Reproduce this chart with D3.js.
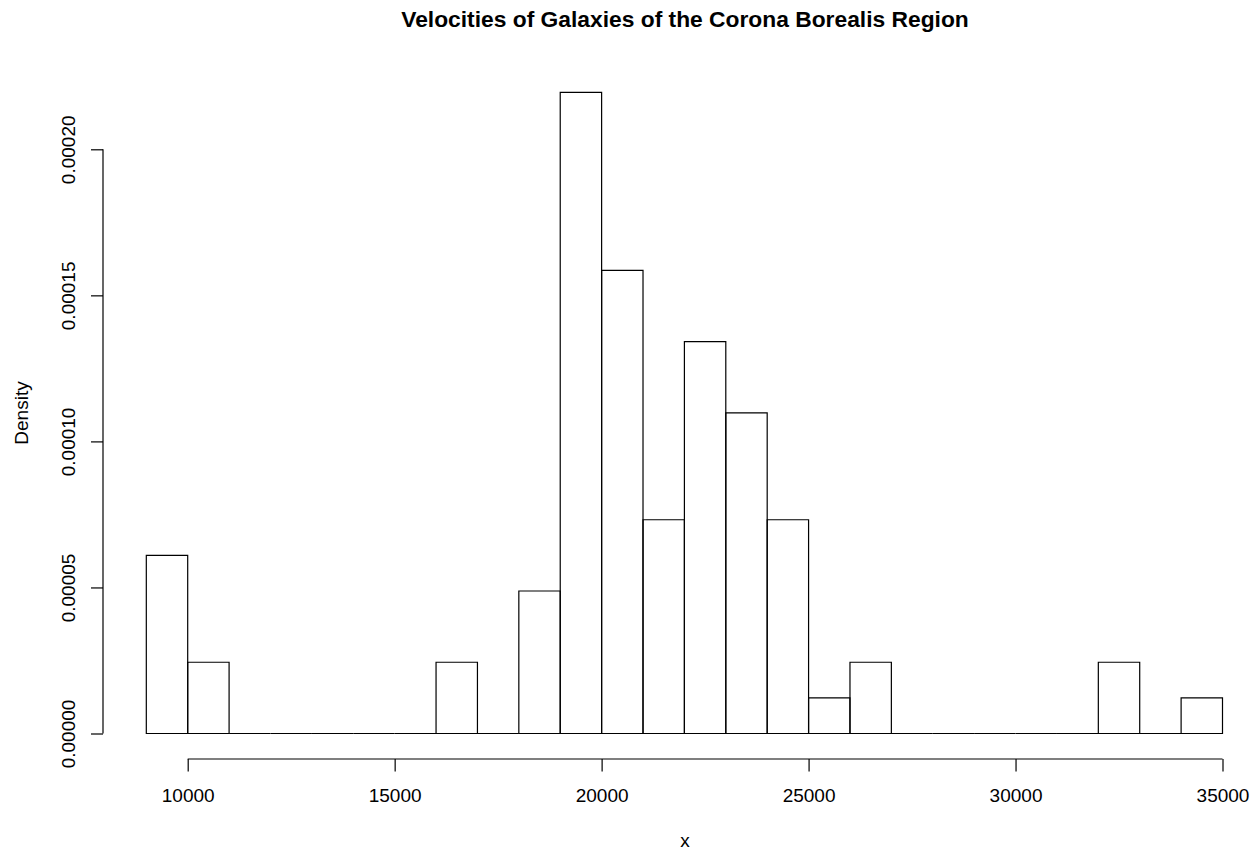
<!DOCTYPE html>
<html><head><meta charset="utf-8">
<script src="https://cdn.jsdelivr.net/npm/d3@7/dist/d3.min.js"></script>
<style>body{margin:0;background:#fff}svg{display:block}text{font-family:"Liberation Sans",Arial,sans-serif;fill:#000}</style>
</head><body><svg id="c" width="1260" height="852"></svg>
<script>
const binStarts = [9000,10000,11000,12000,13000,14000,15000,16000,17000,18000,19000,20000,21000,22000,23000,24000,25000,26000,27000,28000,29000,30000,31000,32000,33000,34000];
const binWidth = 1000;
const densities = [0.00006098,0.00002439,0,0,0,0,0,0.00002439,0,0.00004878,0.00021951,0.00015854,0.00007317,0.00013415,0.00010976,0.00007317,0.00001220,0.00002439,0,0,0,0,0,0.00002439,0,0.00001220];
const xTicks = [10000,15000,20000,25000,30000,35000];
const yTicks = [0,0.00005,0.0001,0.00015,0.0002];
const titleText = "Velocities of Galaxies of the Corona Borealis Region";

const svg = d3.select("#c");
const x = d3.scaleLinear().domain([10000,35000]).range([187.7,1222.5]);
const y = d3.scaleLinear().domain([0,0.0002]).range([733.5,149.3]);

svg.append("g").selectAll("path").data(binStarts).join("path")
  .attr("d", (d,i)=>{
    const x0=x(d), x1=x(d+binWidth), y0=y(0), y1=y(densities[i]);
    return `M${x0},${y0}V${y1}H${x1}V${y0}Z`;
  })
  .attr("fill","none").attr("stroke","#000").attr("stroke-width",1.2);

const gx = svg.append("g").attr("transform","translate(0,759)")
  .call(d3.axisBottom(x).tickValues(xTicks).tickSize(12.5).tickPadding(0).tickFormat(d3.format("d")));
const gy = svg.append("g").attr("transform","translate(103,0)")
  .call(d3.axisLeft(y).tickValues(yTicks).tickSize(12).tickFormat(d3.format(".5f")));
[gx,gy].forEach(g=>{
  g.select(".domain").attr("stroke","#000").attr("stroke-width",1.2).attr("d", g===gx ? `M${x(10000)},0H${x(35000)}` : `M0,${y(0)}V${y(0.0002)}`);
  g.selectAll(".tick line").attr("stroke","#000").attr("stroke-width",1.2);
  g.selectAll("text").attr("font-size",19).attr("font-family","Liberation Sans, Arial, sans-serif").attr("fill","#000");
});
gx.selectAll(".tick text").attr("y",43).attr("dy",null);
gy.selectAll(".tick text").attr("x",null).attr("dy",null).attr("text-anchor","middle")
  .attr("transform","translate(-28,0) rotate(-90)");

svg.append("text").attr("x",685).attr("y",26.5).attr("text-anchor","middle")
  .attr("font-size",22.8).attr("font-weight","bold").text(titleText);
svg.append("text").attr("x",685).attr("y",847).attr("text-anchor","middle").attr("font-size",19).text("x");
svg.append("text").attr("transform","translate(27.5,413) rotate(-90)").attr("text-anchor","middle").attr("font-size",19).text("Density");
</script></body></html>
